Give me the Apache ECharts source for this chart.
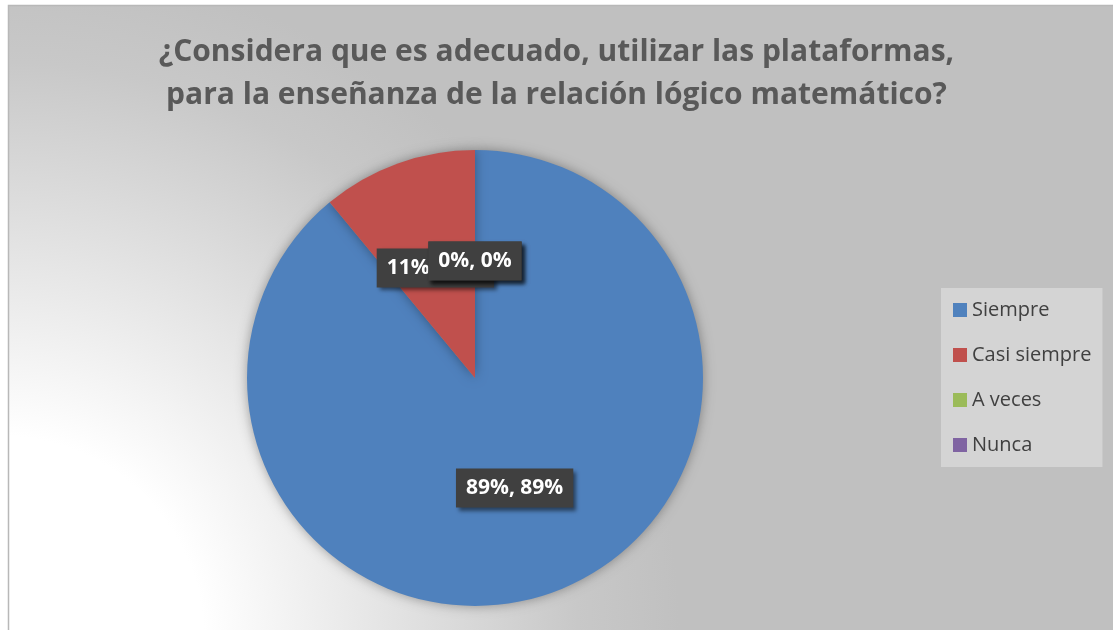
<!DOCTYPE html>
<html>
<head>
<meta charset="utf-8">
<script src="https://cdn.jsdelivr.net/npm/echarts@6/dist/echarts.min.js"></script>
<style>
  html, body { margin: 0; padding: 0; background: #fff; }
  #chart { width: 1113px; height: 630px; }
</style>
</head>
<body>
<div id="chart"></div>
<script>
// data
var categories = ['Siempre', 'Casi siempre', 'A veces', 'Nunca'];
var values = [89, 11, 0, 0];
var colors = ['#4f81bd', '#c0504d', '#9bbb59', '#8064a2'];

var myChart = echarts.init(document.getElementById('chart'));

var option = {
    animation: false,
    color: colors,
    graphic: {
        elements: [{
            type: 'rect',
            z: -10,
            silent: true,
            shape: { x: 8.5, y: 5.5, width: 1200, height: 700 },
            style: {
                fill: {
                    type: 'radial', x: 0, y: 640, r: 680, global: true,
                    colorStops: [
                        { offset: 0, color: '#ffffff' },
                        { offset: 0.3, color: '#ffffff' },
                        { offset: 0.85, color: '#c8c8c8' },
                        { offset: 1, color: '#c0c0c0' }
                    ]
                },
                stroke: '#b8b8b8',
                lineWidth: 1.5
            }
        }]
    },
    title: {
        text: '¿Considera que es adecuado, utilizar las plataformas,\npara la enseñanza de la relación lógico matemático?',
        left: 'center',
        top: 26,
        textStyle: {
            fontFamily: 'Open Sans',
            fontSize: 30,
            fontWeight: 'bold',
            color: '#595959',
            lineHeight: 43
        }
    },
    legend: {
        orient: 'vertical',
        left: 941,
        top: 288,
        icon: 'rect',
        itemWidth: 14,
        itemHeight: 14,
        itemGap: 25,
        itemTextGap: 6,
        padding: [12, 11, 12, 12],
        backgroundColor: '#d4d4d4',
        textStyle: {
            fontFamily: 'Open Sans',
            fontSize: 20,
            color: '#404040'
        },
        data: categories
    },
    series: [{
        type: 'pie',
        center: [475, 378],
        radius: 228,
        startAngle: 90,
        clockwise: true,
        avoidLabelOverlap: false,
        itemStyle: {
            shadowBlur: 12,
            shadowColor: 'rgba(0,0,0,0.35)'
        },
        emphasis: { disabled: true },
        label: {
            show: true,
            position: 'inside',
            formatter: function (p) {
                return p.value + '%, ' + Math.round(p.percent) + '%';
            },
            fontFamily: 'Open Sans',
            fontSize: 21,
            fontWeight: 'bold',
            color: '#ffffff',
            backgroundColor: '#404040',
            padding: [9, 10, 9, 10],
            shadowColor: 'rgba(0,0,0,0.5)',
            shadowBlur: 4,
            shadowOffsetX: 3,
            shadowOffsetY: 3
        },
        labelLine: { show: false },
        data: categories.map(function (c, i) {
            return { name: c, value: values[i] };
        })
    }]
};

myChart.setOption(option);

// echarts hides the labels of 0 value slices, the original chart still shows them
function showZeroLabels() {
    var d = myChart.getModel().getSeriesByIndex(0).getData();
    d.each(function (idx) {
        var el = d.getItemGraphicEl(idx);
        var txt = el && el.getTextContent();
        if (txt) txt.ignore = false;
    });
    myChart.getZr().refreshImmediately();
}
showZeroLabels();

window.addEventListener('resize', function () {
    myChart.resize();
    showZeroLabels();
});
</script>
</body>
</html>
